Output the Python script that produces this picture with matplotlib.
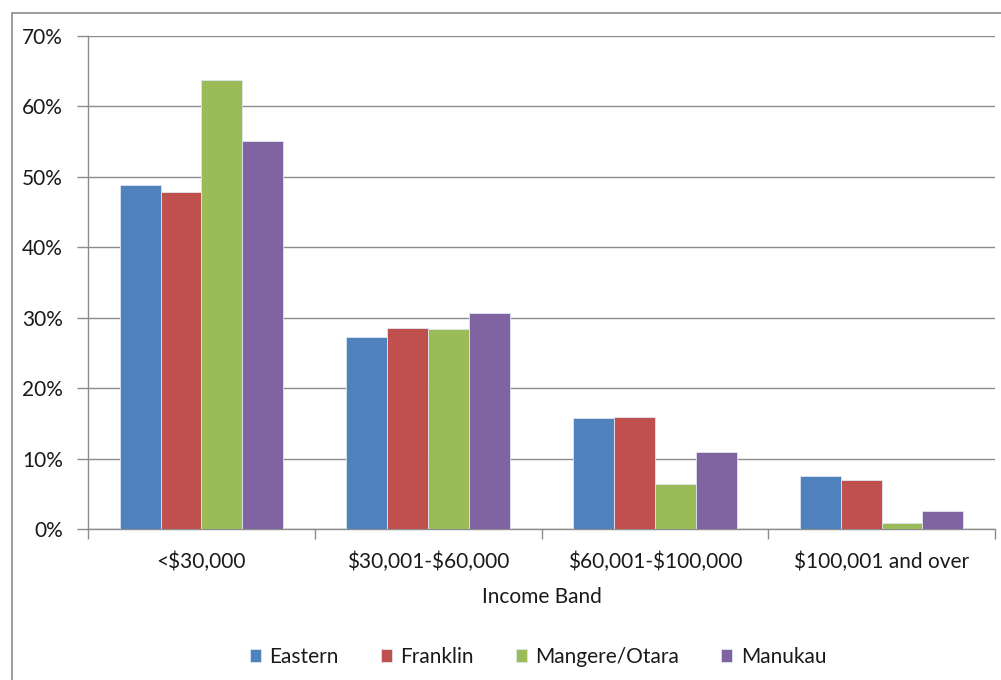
import matplotlib
matplotlib.use("Agg")
import matplotlib.pyplot as plt
import numpy as np
from matplotlib.patches import Rectangle
from matplotlib.ticker import FixedLocator, PercentFormatter

# values (percent)
bands = ["<$30,000", "$30,001-$60,000", "$60,001-$100,000", "$100,001 and over"]
eastern = [48.8, 27.3, 15.7, 7.5]
franklin = [47.9, 28.6, 15.9, 7.0]
mangere = [63.8, 28.4, 6.4, 0.9]
manukau = [55.1, 30.7, 10.9, 2.6]
series_names = ["Eastern", "Franklin", "Mangere/Otara", "Manukau"]
colors = ["#4F81BD", "#C0504D", "#9BBB59", "#8064A2"]

plt.rcParams["font.family"] = ["Lato", "DejaVu Sans"]
plt.rcParams["text.parse_math"] = False
TXT = "#1a1a1a"
GRID = "#8c8c8c"
FS = 15

fig = plt.figure(figsize=(10.01, 6.8), dpi=100)
# chart-area border (cropped at right/bottom like the reference)
fig.patches.append(Rectangle((11.5 / 1001, -0.1), 2.0, 1 - 12.5 / 680 + 0.1,
                             transform=fig.transFigure, fill=False,
                             edgecolor="#8c8c8c", lw=1.2))

ax = fig.add_axes([88 / 1001, 151 / 680, 907 / 1001, 493 / 680])
x = np.arange(len(bands))
w = 0.18  # Excel gap width 150%
for i, (name, vals) in enumerate(zip(series_names, [eastern, franklin, mangere, manukau])):
    ax.bar(x + (i - 1.5) * w, vals, w, color=colors[i], label=name,
           edgecolor="#dfe6f0", linewidth=0.6, zorder=3)

ax.set_xlim(-0.5, len(bands) - 0.5)
ax.set_ylim(0, 70)
ax.yaxis.set_major_locator(FixedLocator(np.arange(0, 71, 10)))
ax.yaxis.set_major_formatter(PercentFormatter(decimals=0))
ax.grid(axis="y", color=GRID, lw=1.0, zorder=0)
ax.set_axisbelow(True)

for s in ["top", "right"]:
    ax.spines[s].set_visible(False)
for s in ["left", "bottom"]:
    ax.spines[s].set_color(GRID)
    ax.spines[s].set_linewidth(1.0)

ax.set_xticks(x)
ax.set_xticklabels(bands)
ax.xaxis.set_minor_locator(FixedLocator(np.arange(-0.5, len(bands), 1.0)))
ax.tick_params(axis="x", which="major", length=0, pad=16, labelsize=FS, labelcolor=TXT)
ax.tick_params(axis="x", which="minor", length=7, width=1.0, color=GRID)
ax.tick_params(axis="y", length=8, width=1.0, color=GRID, pad=10, labelsize=FS, labelcolor=TXT)

ax.set_xlabel("Income Band", fontsize=FS, color=TXT, labelpad=11)

ax.legend(loc="center", bbox_to_anchor=(538 / 1001, 1 - 657 / 680),
          bbox_transform=fig.transFigure, ncol=4, frameon=False,
          fontsize=FS, handlelength=0.55, handleheight=0.55,
          handletextpad=0.4, columnspacing=2.0, labelcolor=TXT)

fig.savefig("out.png", dpi=100)
